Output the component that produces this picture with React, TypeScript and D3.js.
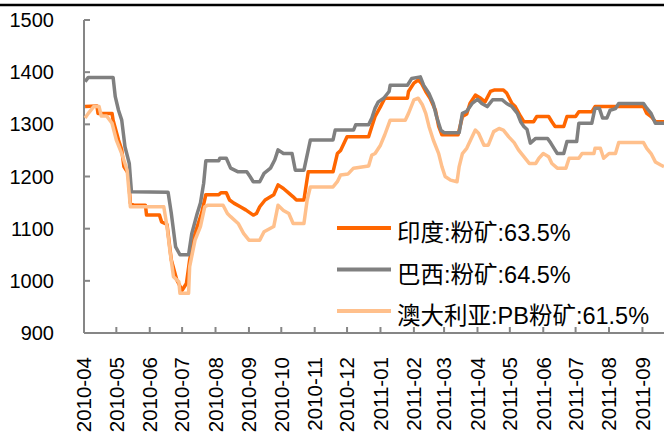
import React from 'react';
import * as d3 from 'd3';

const W = 664;
const H = 435;

// Days since 2010-04-01, price
const START = Date.UTC(2010, 3, 1);
const END = Date.UTC(2011, 8, 21);

const monthLabels = [
  '2010-04', '2010-05', '2010-06', '2010-07', '2010-08', '2010-09', '2010-10', '2010-11', '2010-12',
  '2011-01', '2011-02', '2011-03', '2011-04', '2011-05', '2011-06', '2011-07', '2011-08', '2011-09',
];
const yTicks = [900, 1000, 1100, 1200, 1300, 1400, 1500];

const seriesNames = ['印度:粉矿:63.5%', '巴西:粉矿:64.5%', '澳大利亚:PB粉矿:61.5%'];
const seriesColors = ['#FF6600', '#808080', '#FFC08C'];

const india: [number, number][] = [
  [1, 1334], [12, 1335], [13, 1321], [26, 1321], [27, 1308], [32, 1270], [35, 1251], [37, 1219], [41, 1206],
  [43, 1149], [46, 1145], [57, 1145], [58, 1126], [70, 1126], [72, 1113], [77, 1108], [81, 1040], [86, 1002],
  [91, 982], [95, 995], [98, 1040], [103, 1091], [109, 1129], [113, 1165], [125, 1165], [127, 1169], [132, 1169],
  [135, 1155], [139, 1149], [145, 1142], [150, 1136], [157, 1126], [160, 1129], [163, 1142], [168, 1155],
  [176, 1165], [180, 1184], [185, 1177], [190, 1168], [194, 1161], [197, 1155], [204, 1155], [208, 1209],
  [231, 1209], [235, 1244], [238, 1250], [244, 1276], [264, 1276], [267, 1296], [270, 1315], [275, 1334],
  [279, 1350], [300, 1350], [301, 1363], [306, 1379], [310, 1385], [313, 1379], [317, 1363], [321, 1350],
  [326, 1327], [329, 1296], [332, 1280], [347, 1280], [351, 1315], [355, 1320], [358, 1340], [363, 1356],
  [368, 1350], [372, 1343], [377, 1363], [381, 1366], [389, 1366], [392, 1360], [397, 1340], [400, 1334],
  [405, 1315], [408, 1305], [417, 1305], [420, 1315], [431, 1315], [434, 1305], [437, 1296], [445, 1296],
  [448, 1315], [456, 1315], [459, 1324], [471, 1324], [474, 1334], [519, 1334], [522, 1321], [526, 1315],
  [530, 1305], [538, 1305],
];

const brazil: [number, number][] = [
  [1, 1382], [4, 1390], [27, 1390], [29, 1353], [32, 1327], [35, 1308], [38, 1257], [42, 1225], [44, 1171],
  [78, 1170], [81, 1129], [85, 1065], [89, 1050], [97, 1050], [100, 1091], [105, 1129], [108, 1149], [111, 1187],
  [113, 1230], [125, 1230], [126, 1235], [132, 1235], [136, 1216], [143, 1209], [151, 1209], [154, 1200],
  [157, 1190], [163, 1190], [167, 1206], [173, 1216], [177, 1232], [180, 1251], [185, 1244], [193, 1244],
  [196, 1212], [204, 1212], [210, 1270], [231, 1270], [233, 1289], [250, 1289], [252, 1299], [264, 1299],
  [267, 1312], [270, 1331], [273, 1343], [278, 1350], [283, 1363], [284, 1375], [300, 1375], [304, 1388],
  [312, 1391], [315, 1375], [320, 1359], [324, 1340], [327, 1315], [331, 1289], [334, 1284], [348, 1284],
  [351, 1321], [355, 1325], [360, 1340], [365, 1348], [369, 1340], [374, 1334], [379, 1347], [388, 1347],
  [392, 1340], [397, 1334], [402, 1321], [405, 1305], [408, 1296], [411, 1290], [414, 1264], [419, 1273],
  [430, 1273], [433, 1264], [436, 1254], [439, 1244], [445, 1244], [448, 1267], [457, 1267], [459, 1302],
  [471, 1302], [474, 1331], [478, 1331], [481, 1312], [485, 1312], [488, 1327], [493, 1330], [496, 1340],
  [519, 1340], [522, 1331], [526, 1321], [530, 1302], [538, 1302],
];

const australia: [number, number][] = [
  [1, 1312], [4, 1321], [9, 1334], [14, 1334], [16, 1316], [21, 1316], [26, 1302], [30, 1270], [35, 1244],
  [40, 1212], [43, 1142], [74, 1142], [77, 1104], [80, 1053], [83, 1008], [88, 998], [89, 976], [97, 976],
  [98, 1027], [103, 1078], [108, 1104], [112, 1142], [115, 1145], [129, 1145], [133, 1129], [136, 1123],
  [143, 1110], [148, 1091], [153, 1078], [163, 1078], [167, 1094], [176, 1104], [180, 1145], [185, 1135],
  [190, 1129], [194, 1110], [204, 1110], [207, 1155], [210, 1180], [231, 1180], [235, 1190], [238, 1203],
  [245, 1205], [250, 1216], [264, 1220], [267, 1241], [270, 1244], [275, 1260], [279, 1280], [284, 1308],
  [298, 1308], [301, 1321], [306, 1347], [310, 1350], [314, 1337], [317, 1321], [320, 1296], [324, 1270],
  [329, 1244], [332, 1219], [335, 1200], [340, 1193], [346, 1190], [348, 1219], [351, 1244], [355, 1254],
  [360, 1276], [363, 1289], [366, 1283], [371, 1260], [375, 1260], [380, 1286], [385, 1292], [389, 1289],
  [394, 1276], [399, 1265], [403, 1251], [408, 1238], [413, 1225], [419, 1225], [422, 1235], [426, 1244],
  [431, 1238], [434, 1225], [439, 1216], [447, 1216], [450, 1235], [459, 1235], [462, 1244], [473, 1244],
  [474, 1254], [479, 1254], [482, 1235], [487, 1244], [493, 1244], [496, 1265], [519, 1265], [522, 1254],
  [526, 1244], [530, 1228], [535, 1222], [538, 1219],
];

const allSeries = [india, brazil, australia];

const FONT = "'Liberation Sans', Arial, 'Noto Sans CJK SC', sans-serif";

export default function App() {
  const left = 84;
  const right = 664;
  const top = 20;
  const bottom = 333;

  const x = d3.scaleUtc().domain([new Date(START), new Date(END)]).range([left, right]);
  const y = d3.scaleLinear().domain([900, 1500]).range([bottom, top]);

  const dayDate = (d: number) => new Date(START + d * 86400000);
  const line = d3
    .line<[number, number]>()
    .x((d) => x(dayDate(d[0])))
    .y((d) => y(d[1]));

  const monthDates = monthLabels.map((m) => {
    const [yy, mm] = m.split('-').map(Number);
    return new Date(Date.UTC(yy, mm - 1, 1));
  });

  const axisColor = '#868686';

  return (
    <svg
      width={W}
      height={H}
      style={{ position: 'absolute', left: 0, top: 0, background: '#fff' }}
      fontFamily={FONT}
    >
      <rect x={0} y={0} width={W} height={H} fill="#fff" />
      <line x1={0} x2={W} y1={5} y2={5} stroke="#000" strokeWidth={2.5} />

      {/* Y axis */}
      <line x1={left} x2={left} y1={top} y2={bottom} stroke={axisColor} strokeWidth={2} />
      {yTicks.map((t) => (
        <g key={t}>
          <line x1={left} x2={left + 6} y1={y(t)} y2={y(t)} stroke={axisColor} strokeWidth={2} />
          <text x={54} y={y(t)} dy="0.35em" textAnchor="end" fontSize={20} fill="#000">
            {t}
          </text>
        </g>
      ))}

      {/* X axis */}
      <line x1={left} x2={right} y1={bottom} y2={bottom} stroke={axisColor} strokeWidth={2} />
      {monthDates.map((d, i) => (
        <g key={monthLabels[i]}>
          {i > 0 && (
            <line x1={x(d)} x2={x(d)} y1={bottom} y2={bottom - 6} stroke={axisColor} strokeWidth={2} />
          )}
          <text
            transform={`translate(${x(d)},357) rotate(-90)`}
            dy="0.36em"
            textAnchor="end"
            fontSize={20.5}
            fill="#000"
          >
            {monthLabels[i]}
          </text>
        </g>
      ))}

      {/* Series */}
      {allSeries.map((s, i) => (
        <path
          key={seriesNames[i]}
          d={line(s) || ''}
          fill="none"
          stroke={seriesColors[i]}
          strokeWidth={3.5}
          strokeLinejoin="round"
        />
      ))}

      {/* Legend */}
      {seriesNames.map((n, i) => {
        const ly = 228 + i * 41.5;
        return (
          <g key={n}>
            <line x1={337} x2={391} y1={ly} y2={ly} stroke={seriesColors[i]} strokeWidth={4} />
            <text x={397} y={ly + 13} fontSize={23.5} fill="#000">
              {n}
            </text>
          </g>
        );
      })}
    </svg>
  );
}
